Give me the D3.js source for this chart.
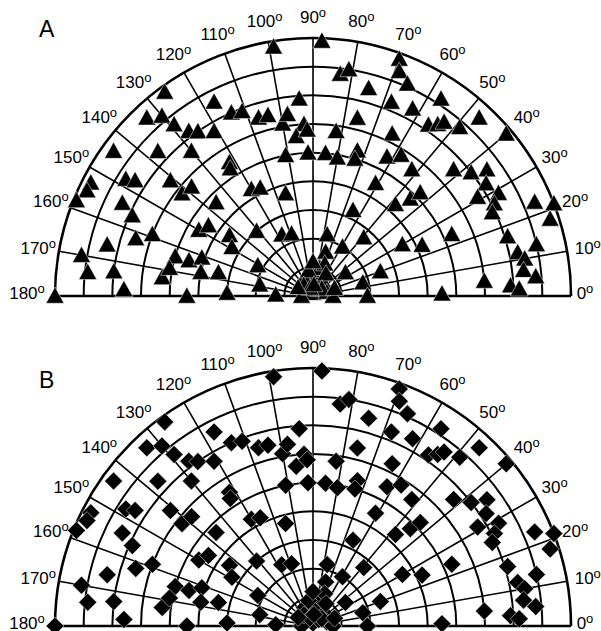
<!DOCTYPE html>
<html lang="en">
<head>
    <meta charset="UTF-8">
    <title>Polar plots A and B</title>
    <script src="https://cdn.jsdelivr.net/npm/d3@7"></script>
    <style>
        body { margin: 0; background: #fff; }
        text { font-family: "Liberation Sans", Helvetica, Arial, sans-serif; }
    </style>
</head>
<body>
</body>
<script>
    const width = 601;
    const height = 631;

    // angle (deg, 0 = right, 180 = left) and radius (0 at centre, 90 at the outer ring)
    const angles = [99, 126, 117, 133, 130, 129, 127, 125, 121, 114, 111, 107, 104, 100, 98, 94, 93, 96, 92, 101, 92,
        144, 137, 130, 122, 123,
        153, 155, 158, 148, 147, 141, 142, 138, 154, 156, 136, 120, 116, 105, 150, 146, 159, 162, 144, 149, 131, 117, 109,
        166, 170, 174, 173, 178, 180, 164, 164, 161, 173, 169, 168, 166, 180, 178, 151, 168, 178,
        88, 83, 81, 75, 70, 69, 66, 68, 62, 57, 47, 56, 54, 53, 49, 40, 76, 82, 64, 85, 80, 73, 73, 62, 58,
        52, 42, 38, 36, 33, 61, 48, 45, 44, 31, 29, 27, 25, 23, 21, 18, 65, 77, 49, 59, 30, 25, 24, 17, 12, 10, 13, 7, 5,
        20, 36, 15, 0, 1, 5, 3, 2, 74,
        90, 119, 49, 52, 87, 115, 16, 0, 180, 76,
        70, 100, 60, 130, 40, 90, 110, 20, 150, 85];
    const radii = [88, 88, 76, 85, 82, 77, 72, 70, 67, 70, 69, 65, 65, 61, 64, 69, 60, 56, 58, 50, 50,
        86, 74, 66, 55, 53,
        87, 87, 89, 77, 74, 64, 58, 57, 74, 69, 47, 43, 42, 37, 46, 44, 60, 65, 36, 33, 30, 24, 23,
        74, 82, 79, 70, 66, 90, 50, 45, 41, 53, 51, 40, 34, 44, 30, 22, 19, 13,
        89, 78, 80, 75, 88, 84, 81, 73, 74, 82, 85, 72, 74, 76, 78, 88, 64, 58, 63, 50, 49, 53, 50, 55, 58,
        56, 66, 70, 75, 72, 45, 43, 48, 52, 67, 74, 71, 69, 84, 90, 87, 33, 22, 27, 20, 36, 42, 53, 71, 73, 75, 80, 74, 78,
        25, 14, 18, 19, 45, 60, 69, 72, 16,
        1, 4, 3, 6, 7, 7, 5, 7, 4, 10,
        12, 9, 9, 5, 4, 12, 3, 8, 6, 4];

    const angleTicks = [0, 10, 20, 30, 40, 50, 60, 70, 80, 90, 100, 110, 120, 130, 140, 150, 160, 170, 180];
    const rings = [10, 20, 30, 40, 50, 60, 70, 80, 90];
    const panels = [
        { name: "A", marker: "triangle", cy: 296, letterY: 37 },
        { name: "B", marker: "diamond", cy: 626, letterY: 388 }
    ];

    const cx = 313;
    const R = 258;
    const r = d3.scaleLinear().domain([0, 90]).range([0, R]);
    const a = d3.scaleLinear().domain([0, 180]).range([0, Math.PI]);

    const points = angles.map((d, i) => ({ angle: d, radius: radii[i] }));

    const svg = d3.select("body")
        .append("svg")
        .attr("width", width)
        .attr("height", height);

    function drawPanel(p) {
        const g = svg.append("g").attr("transform", `translate(${cx}, ${p.cy})`);
        const px = (ang, rad) => r(rad) * Math.cos(a(ang));
        const py = (ang, rad) => -r(rad) * Math.sin(a(ang));

        // radial lines every 10 degrees
        g.selectAll(".spoke")
            .data(angleTicks)
            .enter()
            .append("line")
            .attr("x1", 0)
            .attr("y1", 0)
            .attr("x2", d => px(d, 90))
            .attr("y2", d => py(d, 90))
            .attr("stroke", "#000")
            .attr("stroke-width", 1.6);

        // half rings
        g.selectAll(".ring")
            .data(rings)
            .enter()
            .append("path")
            .attr("d", d => {
                const path = d3.path();
                path.moveTo(r(d), 0);
                path.arc(0, 0, r(d), 0, -Math.PI, true);
                return path.toString();
            })
            .attr("fill", "none")
            .attr("stroke", "#000")
            .attr("stroke-width", d => d === 90 ? 2.6 : 2);

        // base line
        g.append("line")
            .attr("x1", px(180, 90))
            .attr("x2", px(0, 90))
            .attr("y1", 0)
            .attr("y2", 0)
            .attr("stroke", "#000")
            .attr("stroke-width", 2.6);

        // angle labels
        const labels = g.selectAll(".lab")
            .data(angleTicks)
            .enter()
            .append("text")
            .attr("x", d => (R + 21) * Math.cos(a(d)) + (d === 0 || d === 180 ? -7 : 0))
            .attr("y", d => -(R + 21) * Math.sin(a(d)) + (d === 0 || d === 180 ? -3 : 0))
            .attr("text-anchor", "middle")
            .attr("dominant-baseline", "central")
            .style("font-size", "17px");
        labels.append("tspan").text(d => d);
        labels.append("tspan")
            .attr("dy", -5)
            .style("font-size", "13px")
            .text("o");

        // markers
        const s = 8.5;
        const shape = p.marker === "triangle"
            ? `M0,${-s - 0.5}L${s + 0.5},${s * 0.85}L${-s - 0.5},${s * 0.85}Z`
            : `M0,${-s - 0.5}L${s + 0.5},0L0,${s + 0.5}L${-s - 0.5},0Z`;
        g.selectAll(".pt")
            .data(points)
            .enter()
            .append("path")
            .attr("transform", d => `translate(${px(d.angle, d.radius)}, ${py(d.angle, d.radius)})`)
            .attr("d", shape)
            .attr("fill", "#000")
            .attr("stroke", "#fff")
            .attr("stroke-width", 0.5);

        svg.append("text")
            .attr("x", 39)
            .attr("y", p.letterY)
            .style("font-size", "23px")
            .text(p.name);
    }

    panels.forEach(drawPanel);
</script>
</html>
